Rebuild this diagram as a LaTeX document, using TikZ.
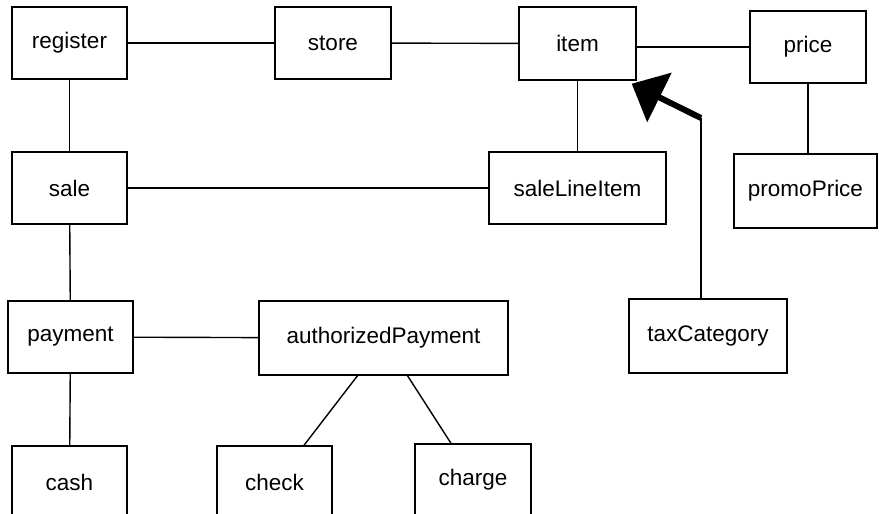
\documentclass[tikz,border=0pt]{standalone}
\usepackage{fontspec}
\setmainfont{Liberation Sans}
\usetikzlibrary{arrows.meta}
\begin{document}
\begin{tikzpicture}[x=1pt, y=-1pt, line width=1.4pt,
  b/.style={draw, inner sep=0pt, minimum height=72pt,
            font=\fontsize{22.5}{26}\selectfont},
  fat/.style={line width=6pt, -{Triangle[length=31pt,width=54pt]}}]
\useasboundingbox (0,0) rectangle (879,514);
\clip (0,0) rectangle (879,514);
\node[b, minimum width=115pt] (reg) at (69.5,43) {register};
\node[b, minimum width=116pt] (store) at (333,43) {store};
\node[b, minimum width=117pt, minimum height=73pt] (item) at (577.5,43.5) {item};
\node[b, minimum width=116pt] (price) at (808,47) {price};
\node[b, minimum width=115pt] (sale) at (69.5,188) {sale};
\node[b, minimum width=177pt] (sli) at (577.5,188) {saleLineItem};
\node[b, minimum width=143pt, minimum height=74pt] (promo) at (805.5,191) {promoPrice};
\node[b, minimum width=158pt, minimum height=74pt] (tax) at (708,336) {taxCategory};
\node[b, minimum width=125pt] (pay) at (70.5,337) {payment};
\node[b, minimum width=249pt, minimum height=74pt] (auth) at (383.5,338) {authorizedPayment};
\node[b, minimum width=115pt] (cash) at (69.5,482) {cash};
\node[b, minimum width=115pt] (check) at (274.5,482) {check};
\node[b, minimum width=116pt] (charge) at (473,480) {charge};
\coordinate (bend) at ([xshift=-7pt]tax.north |- 0,118);
\draw (reg)--(store); \draw (store)--(item); \draw (item.east |- price.west)--(price.west);
\draw (reg)--(sale); \draw (item)--(sli); \draw (price.south)--(price.south |- promo.north);
\draw (sale)--(sli); \draw (sale)--(pay); \draw (pay)--(auth); \draw (pay)--(cash);
\draw ([xshift=-26pt]auth.south)--([xshift=29.5pt]check.north);
\draw ([xshift=24pt]auth.south)--([xshift=-22pt]charge.north);
\draw ([xshift=-7pt]tax.north)--(bend);
\draw[fat] (bend)--([shift={(-5,3)}]item.south east);
\end{tikzpicture}
\end{document}
